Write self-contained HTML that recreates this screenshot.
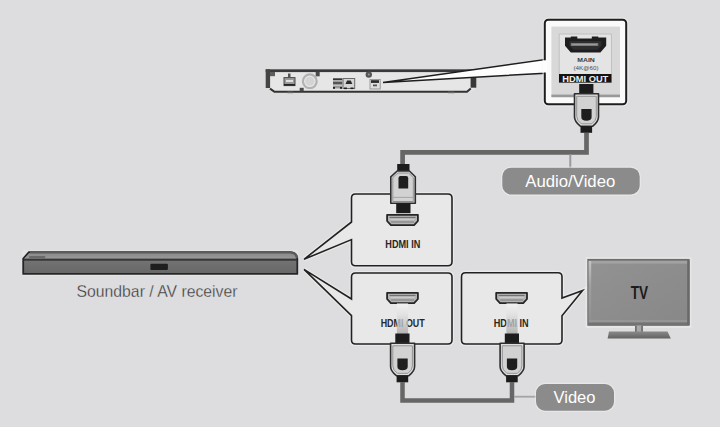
<!DOCTYPE html>
<html><head><meta charset="utf-8">
<style>
html,body{margin:0;padding:0;background:#dddddf;}
body{width:720px;height:427px;overflow:hidden;}
svg{display:block;font-family:"Liberation Sans",sans-serif;}
</style></head>
<body>
<svg width="720" height="427" viewBox="0 0 720 427">
<defs>
  <linearGradient id="sbFront" x1="0" y1="0" x2="0" y2="1">
    <stop offset="0" stop-color="#7a7a7a"/><stop offset="1" stop-color="#676767"/>
  </linearGradient>
  <linearGradient id="sbTop" x1="0" y1="0" x2="0" y2="1">
    <stop offset="0" stop-color="#8a8a8a"/><stop offset="1" stop-color="#999999"/>
  </linearGradient>
  <linearGradient id="tvScreen" x1="0" y1="0" x2="1" y2="1">
    <stop offset="0" stop-color="#929292"/><stop offset="1" stop-color="#888888"/>
  </linearGradient>
  <linearGradient id="tvBase" x1="0" y1="0" x2="0" y2="1">
    <stop offset="0" stop-color="#8a8a8a"/><stop offset="0.5" stop-color="#777"/><stop offset="1" stop-color="#626262"/>
  </linearGradient>
  <linearGradient id="band" x1="0" y1="0" x2="0" y2="1">
    <stop offset="0" stop-color="#f4f4f4" stop-opacity="0.9"/><stop offset="0.35" stop-color="#e0e0e0" stop-opacity="0.7"/><stop offset="1" stop-color="#a8a8a8" stop-opacity="0.85"/>
  </linearGradient>
  <linearGradient id="tvLeft" x1="0" y1="0" x2="0" y2="1">
    <stop offset="0" stop-color="#c4c4c4"/><stop offset="0.4" stop-color="#a0a0a0"/><stop offset="1" stop-color="#8e8e8e"/>
  </linearGradient>
  <!-- plug pointing up (cable exits below); origin = neck top center -->
  <g id="plugUp">
    <rect x="-7.1" y="0" width="14.2" height="9.8" fill="#1c1c1c"/>
    <path d="M-11.8,9.8 H12.2 V33 Q12.2,37.5 6.5,42.2 H-6 Q-11.8,37.5 -11.8,33 Z" fill="#dedede" stroke="#2e2e2e" stroke-width="1.6" stroke-linejoin="round"/>
    <path d="M-9.6,12.3 H10 V32.5 Q10,36.5 5.5,39.8 H-5 Q-9.6,36.5 -9.6,32.5 Z" fill="#d2d2d2" stroke="#8a8a8a" stroke-width="0.9"/>
    <path d="M-5,25 H5.3 V33 Q5.3,36.8 0.15,36.8 Q-5,36.8 -5,33 Z" fill="#1e1e1e"/>
    <rect x="-5.8" y="42.2" width="11.6" height="6.6" fill="#1c1c1c"/>
  </g>
  <!-- plug pointing down (cable enters from above); origin = cap top center -->
  <g id="plugDown">
    <rect x="-6.1" y="0" width="12.3" height="7.5" fill="#1c1c1c"/>
    <path d="M-12.5,39.2 V12.8 L-6.1,7 H6.1 L12,12.8 V39.2 Z" fill="#dedede" stroke="#2e2e2e" stroke-width="1.6" stroke-linejoin="round"/>
    <path d="M-10.5,37.5 V13.5 L-5.3,9 H5.3 L10,13.5 V37.5 Z" fill="#d2d2d2" stroke="#8a8a8a" stroke-width="0.9"/>
    <line x1="-10.5" y1="33.4" x2="10" y2="33.4" stroke="#9a9a9a" stroke-width="0.8"/>
    <path d="M-4.8,24.4 V14.2 Q-4.8,12.1 -2.8,12.1 H2.9 Q4.9,12.1 4.9,14.2 V24.4 Z" fill="#1e1e1e"/>
    <rect x="-7.1" y="39.2" width="14.3" height="10" fill="#1c1c1c"/>
  </g>
  <!-- HDMI port (origin top center) -->
  <g id="port">
    <path d="M-15.4,0.8 H15.4 V7 L11.6,11.2 H-11.6 L-15.4,7 Z" fill="#b4b4b4" stroke="#262626" stroke-width="1.8" stroke-linejoin="round"/>
    <line x1="-13" y1="3.4" x2="13" y2="3.4" stroke="#6a6a6a" stroke-width="1"/>
    <line x1="-12" y1="5.6" x2="12" y2="5.6" stroke="#d0d0d0" stroke-width="0.8"/>
    <line x1="-11.5" y1="8" x2="11.5" y2="8" stroke="#777" stroke-width="0.9"/>
  </g>
</defs>

<!-- ============ Blu-ray player rear ============ -->
<g>
  <path d="M266,69 H476.5 V87.5 L472,91.5 H275 L270.5,88 H266 Z" fill="#e6e6e6"/>
  <rect x="265.7" y="69.3" width="211" height="2.8" fill="#3a3a3a"/>
  <rect x="265.7" y="69.3" width="4.4" height="18.7" fill="#444"/>
  <rect x="270" y="72" width="5" height="4.2" fill="#5e5e5e"/>
  <path d="M270,88.6 L274.5,91.8 H467 L470.8,88.6" fill="none" stroke="#333" stroke-width="2"/>
  <rect x="470.6" y="77.7" width="5.7" height="10" fill="#383838"/>
  <rect x="287.5" y="91.6" width="5.5" height="1.6" fill="#666"/>
  <rect x="448" y="91.6" width="6.5" height="1.6" fill="#666"/>
  <!-- icons -->
  <rect x="288" y="73.5" width="2.5" height="4" fill="#555"/>
  <rect x="284" y="77.6" width="11" height="8" fill="#9a9a9a" stroke="#4a4a4a" stroke-width="1"/>
  <rect x="286" y="80" width="7" height="2" fill="#e0e0e0"/>
  <rect x="284" y="84" width="11" height="1.6" fill="#222"/>
  <circle cx="309.8" cy="81.3" r="6.9" fill="none" stroke="#b2b2b2" stroke-width="2.2"/>
  <circle cx="309.8" cy="81.3" r="4.5" fill="#d4d4d4"/>
  <rect x="315.7" y="71.8" width="4" height="4.5" fill="#4a4a4a"/>
  <rect x="299.7" y="87.8" width="4" height="3.5" fill="#4a4a4a"/>
  <rect x="333" y="78.3" width="9.3" height="2" fill="#333"/>
  <rect x="333" y="81.5" width="9.3" height="3" fill="#555"/>
  <rect x="333" y="85.5" width="9.3" height="3" fill="#999"/>
  <rect x="333" y="87" width="2" height="1.8" fill="#222"/>
  <rect x="340" y="87" width="2" height="1.8" fill="#222"/>
  <rect x="343" y="78.5" width="11.7" height="10" fill="#d6d6d6" stroke="#6a6a6a" stroke-width="1"/>
  <path d="M345.5,84 L347,80.5 H350.8 L352.3,84 Z" fill="#2a2a2a"/>
  <rect x="344" y="87.5" width="3" height="1.6" fill="#222"/>
  <rect x="350.5" y="87.5" width="3" height="1.6" fill="#222"/>
  <circle cx="368.8" cy="74.6" r="3.2" fill="#555"/>
  <circle cx="368.8" cy="74.6" r="1" fill="#999"/>
  <rect x="370" y="79.5" width="10.2" height="9.5" fill="#dedede" stroke="#888" stroke-width="0.8"/>
  <rect x="371" y="80.2" width="8" height="2.7" fill="#2a2a2a"/>
  <rect x="373" y="84.5" width="4" height="1.8" fill="#555"/>
</g>

<!-- callout wedge from player to big box -->
<path d="M383,82.5 L545,59.5 L545,73.2 Z" fill="#fdfdfd" stroke="#1e1e1e" stroke-width="1.5" stroke-linejoin="miter"/>

<!-- big callout box -->
<rect x="544.8" y="19.8" width="81.4" height="84.4" rx="3.5" fill="none" stroke="#f4f4f4" stroke-width="4.5" stroke-opacity="0.6"/>
<rect x="544.8" y="19.8" width="81.4" height="84.4" rx="3.5" fill="#fafafa" stroke="#1e1e1e" stroke-width="2"/>
<rect x="543" y="60.3" width="4" height="12.2" fill="#fdfdfd"/>
<rect x="551.4" y="26.6" width="68.6" height="70.6" fill="#d8d8d8"/>
<rect x="559.2" y="34" width="52.2" height="48.5" fill="#e4e4e4" stroke="#bdbdbd" stroke-width="0.9"/>
<rect x="551.4" y="94.6" width="68.6" height="2.6" fill="#999"/>
<!-- HDMI port big -->
<path d="M565,37.5 H570.8 V36.5 H577.3 V38.5 H591.8 V36.5 H598.3 V37.5 H606.2 V45.7 L600.4,52.4 H570.8 L565,45.7 Z" fill="#1e1e1e"/>
<path d="M569.5,41 H601.5 V45.5 L597.5,49.8 H573.5 L569.5,45.5 Z" fill="#2e2e2e"/>
<rect x="570.8" y="43" width="27.5" height="3" fill="#7a7a7a"/>
<rect x="572" y="44" width="25" height="1" fill="#9a9a9a"/>
<text x="586" y="62" font-size="5.4" font-weight="bold" text-anchor="middle" fill="#3a3a3a" textLength="17.5" lengthAdjust="spacingAndGlyphs">MAIN</text>
<text x="586" y="69.8" font-size="5.4" text-anchor="middle" fill="#4a4a4a" textLength="25" lengthAdjust="spacingAndGlyphs">(4K@60)</text>
<rect x="559" y="74" width="52.5" height="8.6" fill="#141414"/>
<text x="585.3" y="81.5" font-size="8.2" font-weight="bold" text-anchor="middle" fill="#eeeeee" textLength="46" lengthAdjust="spacingAndGlyphs">HDMI OUT</text>

<!-- top plug + cable -->
<use href="#plugUp" x="586.3" y="84"/>
<path d="M586.5,133 V152.45 H402.6 V164.5" fill="none" stroke="#666" stroke-width="4.7"/>
<line x1="570.3" y1="154.5" x2="570.3" y2="167.8" stroke="#9a9a9a" stroke-width="2"/>
<rect x="502.3" y="167.7" width="137.4" height="26.8" rx="9" fill="none" stroke="#f2f2f2" stroke-width="2.5" stroke-opacity="0.5"/>
<rect x="502.3" y="167.7" width="137.4" height="26.8" rx="9" fill="#8b8b8b"/>
<text x="570.3" y="186.9" font-size="17" text-anchor="middle" fill="#ffffff" textLength="90" lengthAdjust="spacingAndGlyphs">Audio/Video</text>

<!-- ============ Soundbar ============ -->
<rect x="21.5" y="250" width="277" height="26" rx="3" fill="#ececec" opacity="0.5"/>
<path d="M23.2,258.5 L28.9,252.2 H290.5 Q296.5,252.5 297.3,258.8 V273.9 H23.2 Z" fill="url(#sbFront)" stroke="#262626" stroke-width="1.8" stroke-linejoin="round"/>
<path d="M24.2,258.8 L29.3,253.1 H290.3 Q295.5,253.6 296.3,258.8 Z" fill="url(#sbTop)"/>
<rect x="24" y="258.7" width="273" height="2" fill="#363636"/>
<path d="M30,252.3 H290.5 Q296.3,252.7 297.2,258" fill="none" stroke="#5c5c5c" stroke-width="2.3"/>
<rect x="29.2" y="256" width="16" height="2.4" fill="#6a6a6a"/>
<rect x="150.4" y="263.8" width="17.5" height="6.2" rx="1" fill="#1e1e1e"/>
<text x="76.5" y="297" font-size="16.4" fill="#3a3a3a" stroke="#dddddf" stroke-width="0.3" textLength="161" lengthAdjust="spacingAndGlyphs">Soundbar / AV receiver</text>

<!-- ============ Callout boxes ============ -->
<!-- upper HDMI IN box -->
<path d="M351.5,222 V198 Q351.5,194 355.5,194 H448 Q452,194 452,198 V261.8 Q452,265.8 448,265.8 H355.5 Q351.5,265.8 351.5,261.8 V239.6 L304,259.3 Z" fill="none" stroke="#f4f4f4" stroke-width="4" stroke-opacity="0.6" stroke-linejoin="miter"/>
<path d="M351.5,222 V198 Q351.5,194 355.5,194 H448 Q452,194 452,198 V261.8 Q452,265.8 448,265.8 H355.5 Q351.5,265.8 351.5,261.8 V239.6 L304,259.3 Z" fill="#e8e8e8" stroke="#222" stroke-width="1.6" stroke-linejoin="miter"/>
<!-- lower HDMI OUT box -->
<path d="M351.5,299 V277 Q351.5,273 355.5,273 H448 Q452,273 452,277 V340 Q452,344 448,344 H355.5 Q351.5,344 351.5,340 V315.6 L304,269.4 Z" fill="none" stroke="#f4f4f4" stroke-width="4" stroke-opacity="0.6" stroke-linejoin="miter"/>
<path d="M351.5,299 V277 Q351.5,273 355.5,273 H448 Q452,273 452,277 V340 Q452,344 448,344 H355.5 Q351.5,344 351.5,340 V315.6 L304,269.4 Z" fill="#e8e8e8" stroke="#222" stroke-width="1.6" stroke-linejoin="miter"/>
<!-- TV HDMI IN box -->
<path d="M562,298 V276.8 Q562,272.8 558,272.8 H465.5 Q461.5,272.8 461.5,276.8 V340 Q461.5,344 465.5,344 H558 Q562,344 562,340 V315.8 L582.6,290.4 Z" fill="none" stroke="#f4f4f4" stroke-width="4" stroke-opacity="0.6" stroke-linejoin="miter"/>
<path d="M562,298 V276.8 Q562,272.8 558,272.8 H465.5 Q461.5,272.8 461.5,276.8 V340 Q461.5,344 465.5,344 H558 Q562,344 562,340 V315.8 L582.6,290.4 Z" fill="#e8e8e8" stroke="#222" stroke-width="1.6" stroke-linejoin="miter"/>

<!-- HDMI IN (upper) contents -->
<use href="#plugDown" x="403.3" y="164"/>
<use href="#port" x="402.5" y="214"/>
<text x="402.8" y="247.9" font-size="10.6" font-weight="bold" text-anchor="middle" fill="#262626" textLength="35" lengthAdjust="spacingAndGlyphs">HDMI IN</text>

<!-- HDMI OUT (lower) contents -->
<use href="#port" x="402.5" y="292"/>
<text x="402.7" y="326.6" font-size="10.6" font-weight="bold" text-anchor="middle" fill="#262626" textLength="44" lengthAdjust="spacingAndGlyphs">HDMI OUT</text>
<rect x="396.9" y="303.4" width="11.2" height="30.6" fill="url(#band)"/>
<use href="#plugUp" x="402.4" y="333.5"/>

<!-- TV HDMI IN contents -->
<use href="#port" x="511.6" y="292"/>
<text x="511.2" y="326.6" font-size="10.6" font-weight="bold" text-anchor="middle" fill="#262626" textLength="35" lengthAdjust="spacingAndGlyphs">HDMI IN</text>
<rect x="506.4" y="303.4" width="11.2" height="30.6" fill="url(#band)"/>
<use href="#plugUp" x="511.9" y="333.5"/>

<!-- bottom cable -->
<path d="M402.5,382 V400.5 H512 V382" fill="none" stroke="#666" stroke-width="4.5"/>
<line x1="514" y1="396.7" x2="537" y2="396.7" stroke="#a4a4a4" stroke-width="1.8"/>
<rect x="536" y="384" width="78" height="26.7" rx="9" fill="none" stroke="#f2f2f2" stroke-width="2.5" stroke-opacity="0.5"/>
<rect x="536" y="384" width="78" height="26.7" rx="9" fill="#8b8b8b"/>
<text x="574.5" y="403.3" font-size="17" text-anchor="middle" fill="#ffffff" textLength="42" lengthAdjust="spacingAndGlyphs">Video</text>

<!-- ============ TV ============ -->
<rect x="585.5" y="257" width="106" height="71" fill="#f2f2f2" opacity="0.45"/>
<rect x="587.3" y="258.9" width="102.3" height="66.8" fill="#6c6c6c"/>
<rect x="588.3" y="259.9" width="100.3" height="64.8" fill="#7e7e7e"/>
<rect x="589.3" y="261" width="98.3" height="61.8" fill="url(#tvScreen)"/>
<rect x="589.3" y="261" width="98.3" height="2.6" fill="#a2a2a2"/>
<rect x="588.6" y="261" width="2.6" height="61.8" fill="url(#tvLeft)"/>
<rect x="589.3" y="320.3" width="98.3" height="1.4" fill="#9a9a9a"/>
<rect x="588.3" y="322.7" width="100.3" height="2.8" fill="#727272"/>
<rect x="687.2" y="260" width="2.4" height="65" fill="#6a6a6a"/>
<rect x="635.1" y="325.5" width="7.7" height="8.5" fill="#a8a8a8"/>
<rect x="635.1" y="325.5" width="1.5" height="8.5" fill="#666"/>
<rect x="641.3" y="325.5" width="1.5" height="8.5" fill="#666"/>
<path d="M609,331.4 H667.5 L670.8,338.4 H607.6 Z" fill="url(#tvBase)"/>
<text x="639.4" y="299" font-size="17.6" font-weight="bold" text-anchor="middle" fill="#1c1c1c" textLength="17.4" lengthAdjust="spacingAndGlyphs">TV</text>
</svg>
</body></html>
